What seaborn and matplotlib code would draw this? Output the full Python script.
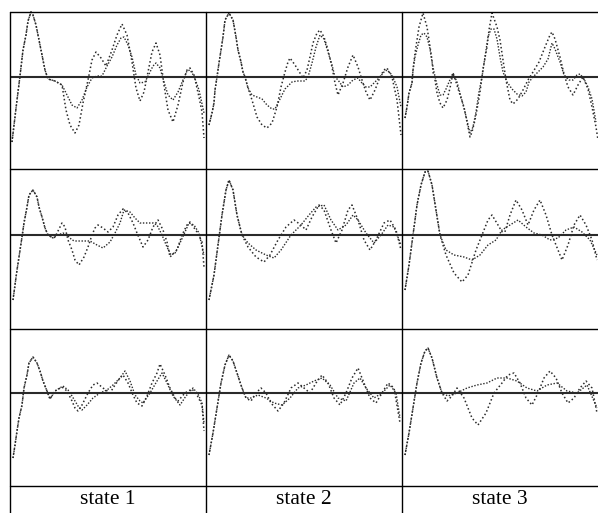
import matplotlib
matplotlib.use("Agg")
import matplotlib.pyplot as plt
from matplotlib.lines import Line2D
import seaborn as sns

sns.set_theme(style="white")
plt.rcParams['font.family'] = ['Liberation Serif', 'DejaVu Serif']

states = ["state 1", "state 2", "state 3"]

# ---------------- row 1 ----------------
r1c1_a_x = [2, 7, 10, 13, 16, 18, 21, 23, 26, 30, 35, 38, 45, 52, 56, 60, 65, 69, 73, 78, 82, 86, 91, 96, 102, 107, 112, 117, 122, 126, 130, 134, 138, 142, 146, 150, 154, 158, 163, 168, 173, 177, 180, 184, 189, 192, 194]
r1c1_a_y = [-65, -23, 1, 27, 42, 56, 65, 62, 52, 32, 7, -2, -4, -8, -33, -48, -56, -48, -26, -3, 17, 25, 19, 11, 27, 42, 53, 42, 15, -11, -24, -15, 5, 25, 34, 22, -8, -33, -45, -28, -5, 7, 9, 2, -20, -35, -61]
r1c1_b_x = [2, 7, 10, 13, 16, 18, 21, 23, 26, 30, 35, 38, 45, 52, 56, 62, 67, 72, 77, 82, 87, 92, 97, 102, 107, 111, 114, 118, 122, 126, 130, 135, 139, 143, 146, 150, 154, 158, 163, 168, 173, 177, 180, 184, 189, 194]
r1c1_b_y = [-65, -23, 1, 27, 42, 56, 65, 62, 52, 32, 7, -2, -4, -8, -16, -28, -31, -23, -10, -1, 1, 1, 11, 20, 32, 39, 40, 32, 20, 2, -6, -5, 3, 11, 14, 9, -5, -18, -23, -15, -3, 6, 7, 1, -13, -36]

r1c2_a_x = [3, 6, 8, 9, 11, 13, 15, 17, 19, 23, 27, 30, 32, 35, 37, 39, 42, 46, 51, 56, 61, 66, 71, 75, 79, 82, 84, 89, 94, 97, 101, 104, 107, 111, 114, 118, 122, 126, 129, 132, 137, 142, 147, 152, 156, 160, 164, 169, 174, 178, 181, 186, 191, 195]
r1c2_a_y = [-48, -36, -26, -13, 0, 14, 27, 40, 57, 64, 57, 40, 27, 15, 5, 0, -11, -23, -40, -48, -51, -46, -30, -10, 5, 15, 19, 12, 4, -1, 7, 20, 34, 44, 47, 40, 27, 10, -6, -18, -6, 10, 22, 10, -3, -15, -23, -13, 0, 7, 9, 0, -23, -58]
r1c2_b_x = [3, 6, 8, 9, 11, 13, 15, 17, 19, 23, 27, 30, 32, 35, 37, 39, 42, 46, 51, 56, 61, 66, 69, 74, 79, 86, 91, 99, 102, 106, 110, 114, 118, 122, 126, 129, 132, 137, 142, 147, 152, 155, 160, 164, 169, 174, 178, 181, 186, 191, 195]
r1c2_b_y = [-48, -36, -26, -13, 0, 14, 27, 40, 57, 64, 57, 40, 27, 15, 5, 0, -11, -18, -20, -22, -28, -32, -32, -22, -12, -5, -4, -4, 0, 14, 30, 42, 38, 25, 12, 0, -3, -10, -8, -3, -1, -5, -10, -10, -5, 0, 5, 7, 2, -10, -30]

r1c3_a_x = [3, 5, 7, 10, 11, 13, 15, 17, 21, 25, 27, 30, 31, 33, 35, 38, 41, 45, 48, 51, 54, 58, 62, 65, 68, 70, 73, 76, 78, 81, 85, 87, 90, 95, 98, 101, 104, 108, 111, 116, 121, 126, 131, 137, 143, 148, 150, 153, 158, 162, 166, 171, 176, 181, 186, 190, 194, 196]
r1c3_a_y = [-41, -30, -16, -6, 7, 24, 37, 50, 64, 50, 37, 17, 5, -3, -16, -26, -31, -23, -11, 4, -5, -18, -30, -45, -60, -55, -43, -27, -15, 8, 30, 47, 64, 50, 37, 17, -3, -23, -27, -22, -13, -3, 5, 15, 30, 42, 45, 38, 20, 3, -10, -18, -8, 0, -12, -30, -50, -63]
r1c3_b_x = [3, 5, 7, 10, 11, 13, 16, 19, 22, 25, 28, 30, 32, 35, 38, 41, 44, 47, 51, 55, 59, 63, 66, 68, 71, 74, 77, 80, 83, 86, 89, 92, 95, 98, 101, 105, 110, 115, 120, 124, 127, 131, 136, 141, 146, 150, 153, 158, 162, 167, 171, 175, 178, 182, 186, 190, 194]
r1c3_b_y = [-41, -30, -16, -6, 7, 20, 32, 42, 44, 40, 28, 15, 5, -8, -18, -18, -12, -5, 4, -5, -20, -35, -48, -56, -50, -35, -15, 0, 20, 40, 48, 48, 38, 20, 5, -5, -12, -17, -19, -15, -5, 0, 5, 10, 18, 34, 28, 15, 2, -3, -3, 2, 3, -2, -10, -22, -45]

# ---------------- row 2 ----------------
r2c1_a_x = [3, 5, 7, 9, 12, 14, 17, 19, 23, 27, 29, 32, 35, 38, 43, 45, 48, 52, 55, 58, 62, 65, 69, 74, 78, 82, 85, 88, 93, 98, 103, 108, 113, 118, 123, 127, 130, 133, 138, 143, 148, 153, 157, 160, 167, 172, 177, 180, 187, 192, 194]
r2c1_a_y = [-65, -50, -35, -22, -2, 12, 28, 40, 45, 38, 28, 18, 7, 0, -3, -2, 4, 12, 8, -5, -15, -25, -30, -22, -12, 0, 7, 10, 7, 3, 8, 20, 26, 22, 12, 2, -5, -12, -5, 8, 15, 5, -7, -22, -15, 0, 10, 13, 3, -7, -32]
r2c1_b_x = [3, 5, 7, 9, 12, 14, 17, 19, 23, 27, 29, 32, 35, 38, 43, 48, 53, 57, 62, 65, 80, 87, 93, 100, 105, 110, 114, 120, 125, 130, 143, 147, 152, 157, 161, 165, 170, 175, 179, 184, 189, 194]
r2c1_b_y = [-65, -50, -35, -22, -2, 12, 28, 40, 45, 38, 28, 18, 7, 0, -3, 0, 2, 0, -5, -6, -6, -10, -13, -7, 2, 12, 25, 23, 17, 12, 12, 10, 0, -12, -20, -18, -8, 3, 12, 10, 2, -20]

r2c2_a_x = [3, 8, 12, 16, 20, 23, 27, 31, 36, 42, 50, 58, 64, 72, 80, 88, 95, 100, 106, 113, 118, 125, 130, 136, 142, 146, 152, 158, 164, 170, 178, 184, 190, 195]
r2c2_a_y = [-65, -40, -10, 20, 45, 55, 45, 20, 0, -12, -22, -27, -20, -5, 8, 15, 10, 5, 18, 30, 25, 5, -8, 5, 25, 30, 15, -5, -15, -5, 12, 15, 5, -15]
r2c2_b_x = [3, 8, 12, 16, 20, 23, 27, 31, 36, 42, 50, 60, 68, 75, 85, 95, 103, 110, 118, 125, 132, 140, 147, 152, 160, 168, 175, 182, 188, 195]
r2c2_b_y = [-65, -40, -10, 20, 45, 55, 45, 20, 0, -8, -15, -20, -23, -15, 0, 10, 20, 28, 30, 15, 5, 10, 20, 15, 2, -8, 0, 10, 8, -10]

r2c3_a_x = [3, 7, 11, 15, 19, 23, 26, 30, 34, 38, 44, 52, 60, 66, 74, 80, 86, 90, 96, 102, 108, 114, 120, 126, 132, 138, 144, 150, 156, 160, 166, 172, 178, 184, 190, 195]
r2c3_a_y = [-55, -30, 0, 30, 50, 63, 64, 50, 25, 0, -20, -38, -47, -40, -15, 0, 15, 20, 10, 0, 20, 35, 25, 10, 25, 35, 20, 0, -15, -25, -10, 10, 20, 10, -5, -25]
r2c3_b_x = [3, 7, 11, 15, 19, 23, 26, 30, 34, 38, 44, 52, 62, 70, 78, 86, 94, 100, 108, 116, 124, 132, 140, 148, 156, 164, 172, 180, 188, 195]
r2c3_b_y = [-55, -30, 0, 30, 50, 63, 64, 50, 25, 0, -15, -20, -22, -25, -20, -10, -5, 5, 10, 15, 8, 2, 0, -5, -3, 5, 8, 3, -5, -20]

# ---------------- row 3 ----------------
r3c1_a_x = [3, 5, 7, 9, 12, 14, 17, 19, 23, 27, 30, 33, 37, 40, 45, 52, 57, 62, 65, 68, 72, 78, 83, 87, 93, 100, 105, 110, 113, 118, 123, 127, 132, 137, 142, 147, 150, 155, 160, 165, 168, 175, 182, 187, 192, 194]
r3c1_a_y = [-65, -52, -38, -25, -12, 5, 18, 30, 36, 30, 22, 12, 2, -6, 2, 6, 2, -8, -15, -18, -12, 0, 8, 10, 5, 0, 8, 15, 18, 10, -2, -10, -13, -3, 10, 20, 29, 18, 5, -5, -8, 0, 4, -2, -12, -38]
r3c1_b_x = [3, 5, 7, 9, 12, 14, 17, 19, 23, 27, 30, 33, 37, 40, 45, 53, 58, 62, 68, 72, 77, 83, 90, 97, 103, 110, 115, 120, 125, 130, 133, 140, 147, 152, 157, 163, 170, 176, 183, 188, 192, 194]
r3c1_b_y = [-65, -52, -38, -25, -12, 5, 18, 30, 36, 30, 22, 12, 2, -6, 2, 7, 3, -3, -13, -17, -12, -5, 0, 3, 8, 15, 22, 12, -2, -8, -10, 0, 12, 20, 10, -3, -12, -3, 5, -1, -10, -30]

r3c2_a_x = [3, 7, 11, 15, 19, 23, 27, 31, 36, 40, 45, 50, 55, 60, 65, 72, 78, 85, 92, 98, 104, 110, 116, 122, 128, 134, 140, 146, 152, 158, 164, 170, 176, 182, 188, 194]
r3c2_a_y = [-62, -40, -15, 10, 28, 38, 32, 20, 5, -5, -8, 0, 5, 0, -10, -18, -10, 5, 10, 5, 0, 10, 18, 10, -5, -12, 0, 15, 25, 10, -5, -10, 0, 10, 5, -30]
r3c2_b_x = [3, 7, 11, 15, 19, 23, 27, 31, 36, 40, 45, 52, 60, 68, 76, 84, 92, 100, 108, 116, 124, 132, 140, 148, 154, 160, 168, 176, 184, 190, 194]
r3c2_b_y = [-62, -40, -15, 10, 28, 38, 32, 20, 5, -5, -5, -2, -5, -10, -12, -5, 5, 8, 12, 15, 8, -5, -8, 10, 15, 5, -5, 0, 8, 0, -25]

r3c3_a_x = [3, 7, 11, 15, 19, 23, 26, 30, 35, 40, 45, 50, 55, 62, 70, 76, 84, 92, 100, 106, 112, 118, 124, 130, 136, 142, 148, 154, 160, 166, 172, 178, 184, 190, 195]
r3c3_a_y = [-62, -40, -15, 10, 30, 42, 45, 35, 15, 0, -8, -3, 5, -5, -25, -32, -20, 0, 10, 18, 20, 10, -5, -12, 0, 15, 22, 15, 0, -10, -5, 5, 12, 5, -20]
r3c3_b_x = [3, 7, 11, 15, 19, 23, 26, 30, 35, 40, 46, 55, 65, 75, 85, 95, 105, 115, 125, 135, 145, 155, 165, 175, 185, 195]
r3c3_b_y = [-62, -40, -15, 10, 30, 42, 45, 35, 15, 0, -3, 0, 5, 8, 10, 15, 15, 12, 5, 2, 8, 10, 2, 0, 8, -15]

curves = [
    [(r1c1_a_x, r1c1_a_y, r1c1_b_x, r1c1_b_y), (r1c2_a_x, r1c2_a_y, r1c2_b_x, r1c2_b_y), (r1c3_a_x, r1c3_a_y, r1c3_b_x, r1c3_b_y)],
    [(r2c1_a_x, r2c1_a_y, r2c1_b_x, r2c1_b_y), (r2c2_a_x, r2c2_a_y, r2c2_b_x, r2c2_b_y), (r2c3_a_x, r2c3_a_y, r2c3_b_x, r2c3_b_y)],
    [(r3c1_a_x, r3c1_a_y, r3c1_b_x, r3c1_b_y), (r3c2_a_x, r3c2_a_y, r3c2_b_x, r3c2_b_y), (r3c3_a_x, r3c3_a_y, r3c3_b_x, r3c3_b_y)],
]

W, H = 598, 513
fig = plt.figure(figsize=(W / 100, H / 100), dpi=100)
fig.patch.set_facecolor("white")

col_edges = [10, 206, 402, 598]
row_edges = [12, 169, 329, 486]
zero_off = [65, 66, 64]
ink = "#2a2a2a"

for r in range(3):
    for c in range(3):
        x0, x1 = col_edges[c], col_edges[c + 1]
        y0, y1 = row_edges[r], row_edges[r + 1]
        ax = fig.add_axes([x0 / W, 1 - y1 / H, (x1 - x0) / W, (y1 - y0) / H])
        ax.set_xlim(0, x1 - x0)
        ax.set_ylim(-(y1 - y0 - zero_off[r]), zero_off[r])
        ax.axis("off")
        ax.axhline(0, color=ink, lw=1.5, zorder=1)
        ax_x, ax_y, bx, by = curves[r][c]
        sns.lineplot(x=ax_x, y=ax_y, ax=ax, color=ink, lw=1.1,
                     linestyle=(0, (1, 1.6)), estimator=None, sort=False,
                     legend=False, clip_on=False, zorder=3)
        sns.lineplot(x=bx, y=by, ax=ax, color=ink, lw=1.0,
                     linestyle=(0, (1, 1.2)), estimator=None, sort=False,
                     legend=False, clip_on=False, zorder=3)

# table rules
for y in row_edges:
    fig.add_artist(Line2D([10 / W, 1.0], [1 - y / H, 1 - y / H], color="black", lw=1.0))
for x in col_edges[:3]:
    fig.add_artist(Line2D([x / W, x / W], [1 - 12 / H, 0.0], color="black", lw=1.0))

for i, s in enumerate(states):
    cx = (col_edges[i] + col_edges[i + 1]) / 2
    fig.text(cx / W, 1 - 500 / H, s, ha="center", va="center", fontsize=15.5, color="black")

fig.savefig("out.png", dpi=100, facecolor="white")
